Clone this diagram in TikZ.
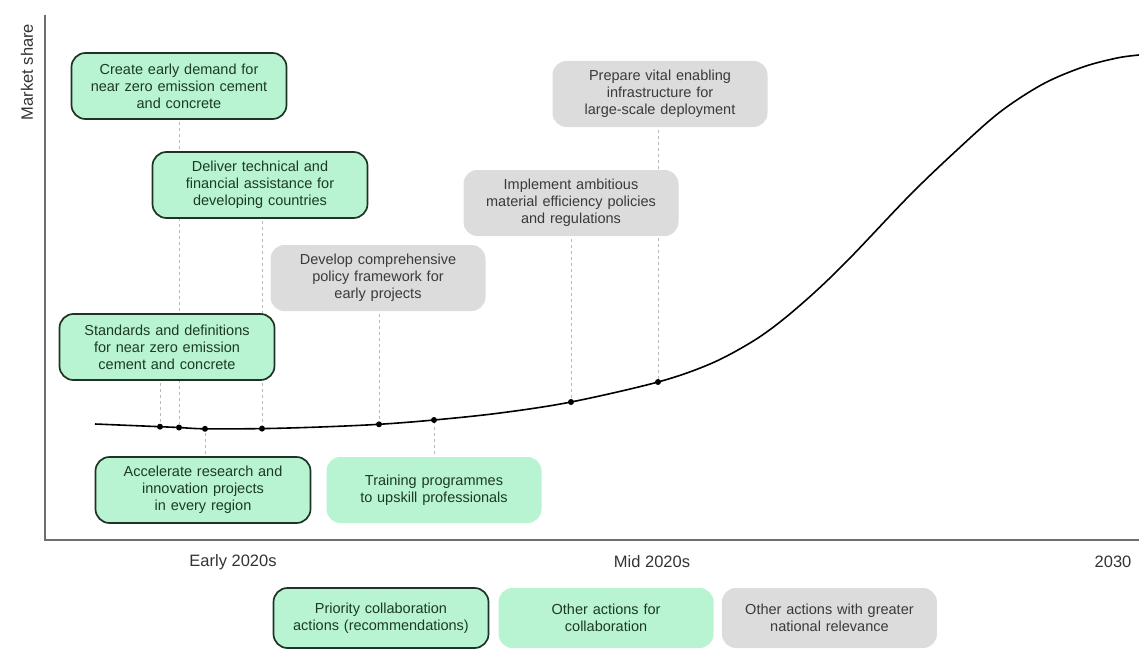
\documentclass[tikz,border=0pt]{standalone}
\usepackage{fontspec}
\setmainfont{Liberation Sans}
\usepackage{xcolor}
\usepackage{tikz}
\usetikzlibrary{positioning,backgrounds}
\definecolor{mint}{HTML}{B8F4D2}
\definecolor{mintedge}{HTML}{1E3325}
\definecolor{minttext}{HTML}{1D3A26}
\definecolor{palegray}{HTML}{DCDCDC}
\definecolor{graytext}{HTML}{3A3A3A}
\definecolor{axisgray}{HTML}{6E6E6E}

\begin{document}
\begin{tikzpicture}[x=1pt, y=-1pt,
  every node/.style={font=\fontsize{14.5}{17}\selectfont},
  action/.style={rounded corners=14pt, minimum width=215pt, minimum height=66pt, text width=205pt, align=center, inner sep=0pt},
  prio/.style={action, draw=mintedge, line width=1.7pt, fill=mint, text=minttext},
  other/.style={action, fill=mint, text=minttext},
  national/.style={action, fill=palegray, text=graytext},
  lead/.style={draw=gray!55, dashed, line width=0.8pt},
  dot/.style={circle, fill=black, inner sep=0pt, minimum size=6pt},
  axislabel/.style={font=\fontsize{16.5}{19}\selectfont, text=black!80}]
  \useasboundingbox (0,0) rectangle (1139,650);

  % axes
  \coordinate (ytop) at (45,15);
  \coordinate (origin) at (45,540);
  \coordinate (xend) at (1139,540);
  \draw[axisgray, line width=1.8pt] (ytop) -- (origin) -- (xend);
  \node[axislabel, rotate=90] (share) at (27,72) {Market share};
  \node[axislabel] (early) at (233,562) {Early 2020s};
  \node[axislabel] (mid) at (652,562) {Mid 2020s};
  \node[axislabel] (end) at (1113,562) {2030};

  % points on the curve
  \coordinate (d1) at (160,426.7);
  \coordinate (d2) at (179,427.5);
  \coordinate (d3) at (205,428.8);
  \coordinate (d4) at (262,428.6);
  \coordinate (d5) at (379,424.3);
  \coordinate (d6) at (434,420);
  \coordinate (d7) at (571,402);
  \coordinate (d8) at (658,382);

  \draw[line width=1.6pt] plot[smooth, tension=0.55] coordinates {(95,424) (d1) (d2) (d3) (d4) (320,427) (d5) (d6) (500,413) (d7) (d8) (710,364) (750,343) (780,322) (815,292) (850,258) (910,195) (957,150) (1000,112) (1043,84) (1083,67) (1117,58) (1139,55)};
  \foreach \d in {d1,d2,d3,d4,d5,d6,d7,d8}
    \node[dot] (p\d) at (\d) {};

  % actions
  \node[prio] (demand) at (179,86) {Create early demand for\\near zero emission cement\\and concrete};
  \node[prio] (assist) at (260,185) {Deliver technical and\\financial assistance for\\developing countries};
  \node[prio] (standards) at (167,347) {Standards and definitions\\for near zero emission\\cement and concrete};
  \node[national] (policy) at (378,278) {Develop comprehensive\\policy framework for\\early projects};
  \node[national] (efficiency) at (571,203) {Implement ambitious\\material efficiency policies\\and regulations};
  \node[national] (infra) at (660,94) {Prepare vital enabling\\infrastructure for\\large-scale deployment};
  \node[prio] (research) at (203,490) {Accelerate research and\\innovation projects\\in every region};
  \node[other] (training) at (434,490) {Training programmes\\to upskill professionals};

  \begin{scope}[on background layer]
    \draw[lead] (d2 |- demand) -- (pd2);
    \draw[lead] (d4 |- assist) -- (pd4);
    \draw[lead] (d1 |- standards) -- (pd1);
    \draw[lead] (d5 |- policy) -- (pd5);
    \draw[lead] (d7 |- efficiency) -- (pd7);
    \draw[lead] (d8 |- infra) -- (pd8);
    \draw[lead] (d3 |- research) -- (pd3);
    \draw[lead] (d6 |- training) -- (pd6);
  \end{scope}

  % key
  \node[prio, minimum height=60pt] (keyprio) at (381,618) {Priority collaboration\\actions (recommendations)};
  \node[other, minimum height=60pt, right=9pt of keyprio] (keyother) {Other actions for\\collaboration};
  \node[national, minimum height=60pt, right=8pt of keyother] (keynat) {Other actions with greater\\national relevance};
\end{tikzpicture}
\end{document}
